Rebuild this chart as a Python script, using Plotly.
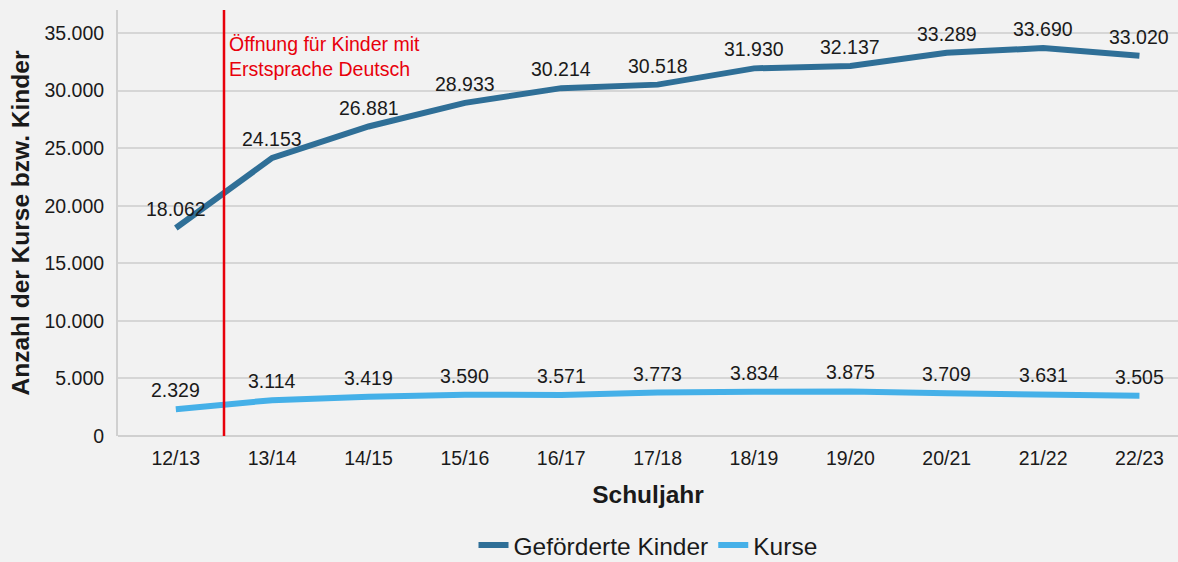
import plotly.graph_objects as go

schuljahre = ["12/13", "13/14", "14/15", "15/16", "16/17", "17/18", "18/19", "19/20", "20/21", "21/22", "22/23"]
gefoerderte_kinder = [18062, 24153, 26881, 28933, 30214, 30518, 31930, 32137, 33289, 33690, 33020]
kurse = [2329, 3114, 3419, 3590, 3571, 3773, 3834, 3875, 3709, 3631, 3505]

font_family = "Liberation Sans, Arial, sans-serif"
label_size = 19.5
title_size = 24.5


def fmt(v):
    return f"{v:,}".replace(",", ".")


fig = go.Figure()
fig.add_trace(go.Scatter(
    x=schuljahre, y=gefoerderte_kinder, name="Geförderte Kinder",
    mode="lines", line=dict(color="#2f6f97", width=6), hoverinfo="skip",
))
fig.add_trace(go.Scatter(
    x=schuljahre, y=kurse, name="Kurse",
    mode="lines", line=dict(color="#45b0e8", width=6), hoverinfo="skip",
))

for series in (gefoerderte_kinder, kurse):
    for cat, v in zip(schuljahre, series):
        fig.add_annotation(x=cat, y=v, text=fmt(v), showarrow=False, yshift=19,
                           yanchor="middle", xanchor="center",
                           font=dict(size=label_size, color="#1a1a1a", family=font_family))

fig.add_shape(type="line", xref="x", yref="paper", x0=0.5, x1=0.5, y0=0, y1=1,
              line=dict(color="#e8000b", width=2.5))
fig.add_annotation(xref="x", yref="paper", x=0.5, y=0.95, xanchor="left", yanchor="top",
                   xshift=3, align="left", showarrow=False,
                   text="Öffnung für Kinder mit<br>Erstsprache Deutsch",
                   font=dict(size=label_size, color="#e8000b", family=font_family))

fig.update_layout(
    width=1178, height=562,
    margin=dict(l=118, r=0, t=10, b=126),
    paper_bgcolor="#f2f2f2", plot_bgcolor="#f2f2f2",
    font=dict(family=font_family, size=label_size, color="#1a1a1a"),
    separators=",.",
    showlegend=True,
    legend=dict(orientation="h", x=0.5, xanchor="center", yref="container", y=0.03, yanchor="middle",
                font=dict(size=title_size, color="#1a1a1a"), itemwidth=30, bgcolor="rgba(0,0,0,0)"),
    xaxis=dict(
        range=[-0.6, 10.4], showgrid=False, showline=False, zeroline=False, automargin=False,
        ticks="", tickfont=dict(size=label_size), ticklabelstandoff=8,
        title=dict(text="<b>Schuljahr</b>", font=dict(size=title_size), standoff=18),
    ),
    yaxis=dict(
        range=[0, 37000], dtick=5000, tickformat=",d", automargin=False,
        showgrid=True, gridcolor="#d6d6d6", gridwidth=2,
        showline=True, linecolor="#d0d0d0", linewidth=2,
        zeroline=True, zerolinecolor="#d0d0d0", zerolinewidth=2,
        ticks="", tickfont=dict(size=label_size), ticklabelstandoff=8,
        title=dict(text="<b>Anzahl der Kurse bzw. Kinder</b>", font=dict(size=title_size), standoff=8),
    ),
)

fig.write_html("out.html", config={"displayModeBar": False},
               post_script="document.body.style.margin='0px';")
